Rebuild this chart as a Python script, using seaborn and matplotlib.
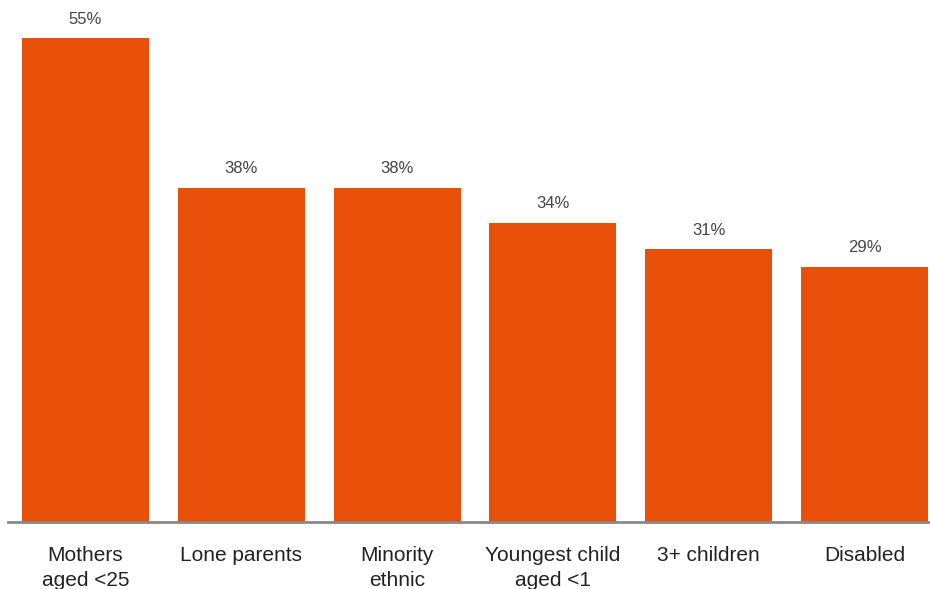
import matplotlib
matplotlib.use("Agg")
import matplotlib.pyplot as plt
import seaborn as sns
import pandas as pd

# dados do gráfico
categorias = ["Mothers\naged <25", "Lone parents", "Minority\nethnic",
              "Youngest child\naged <1", "3+ children", "Disabled"]
valores = [55, 38, 38, 34, 31, 29]
rotulos = ["55%", "38%", "38%", "34%", "31%", "29%"]

dados = pd.DataFrame({"grupo": categorias, "valor": valores})

sns.set_style("white")
plt.rcParams['font.family'] = ['Liberation Sans', 'DejaVu Sans']

fig = plt.figure(figsize=(9.3, 5.89), dpi=100)
ax = fig.add_axes([8 / 930, 67 / 589, 1 - 8 / 930, 522 / 589])

sns.barplot(data=dados, x="grupo", y="valor", color="#E8500A",
            saturation=1, width=0.814, linewidth=0, ax=ax)

for i, v in enumerate(valores):
    ax.text(i, v + 1.3, rotulos[i], ha="center", va="bottom",
            fontsize=12, color="#444444")

ax.set_xlim(-0.497, 5.42)
ax.set_ylim(0, 522 / 8.8)
ax.set_xlabel("")
ax.set_ylabel("")
ax.set_yticks([])
ax.tick_params(axis="x", length=0, pad=17, labelsize=15, labelcolor="#222222")
for lbl in ax.get_xticklabels():
    lbl.set_linespacing(1.4)
    lbl.set_verticalalignment("top")

for lado in ["top", "right", "left"]:
    ax.spines[lado].set_visible(False)
ax.spines["bottom"].set_color("#888888")
ax.spines["bottom"].set_linewidth(2)

fig.savefig("out.png", dpi=100)
